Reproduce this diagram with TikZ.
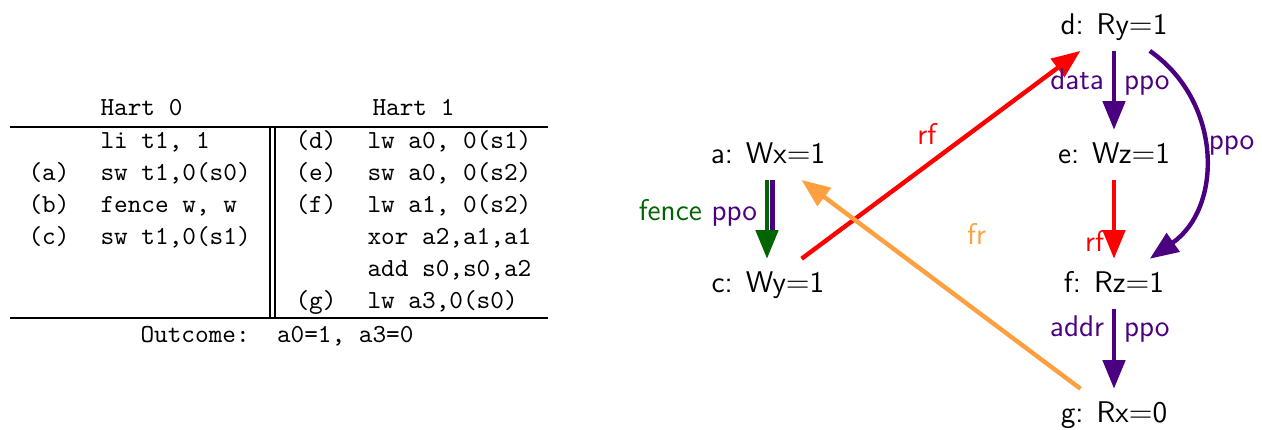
\documentclass[tikz,border=0pt]{standalone}
\usetikzlibrary{arrows.meta,calc,positioning}
\definecolor{ppocol}{RGB}{75,0,130}
\definecolor{fencecol}{RGB}{0,100,0}
\definecolor{rfcol}{RGB}{255,0,0}
\definecolor{frcol}{RGB}{255,160,64}
\tikzset{
	code/.style={anchor=base west, inner sep=0pt, font=\ttfamily\fontsize{10}{12}\selectfont},
	ev/.style={anchor=base, inner sep=3.6pt, text height=9pt, text depth=2.7pt, font=\sffamily\fontsize{11.5}{14}\selectfont},
	lbl/.style={inner sep=3pt, text height=7pt, text depth=2pt, font=\sffamily\fontsize{11.5}{14}\selectfont},
	rel/.style={line width=1.7pt, -{Triangle[length=11pt,width=8.5pt]}},
}
\begin{document}
\begin{tikzpicture}[x=0.3846pt, y=-0.3846pt]
			\useasboundingbox (0,0) rectangle (1262,429);
			%%%%% LITMUS TABLE %%%%%
			
			\node[code] (hart0) at (100,115) {Hart 0};
			\node[code] (hart1) at (372,115) {Hart 1};
			
			\draw (10,127) -- (548,127);
			\draw (270,127) -- (270,318);
			\draw (275,127) -- (275,318);
			\draw (10,318) -- (548,318);
			
			\node[code] (li) at (100,148) {li t1, 1};
			\node[code] (la) at (28,180) {(a)};
			\node[code] (ia) at (100,180) {sw t1,0(s0)};
			\node[code] (lb) at (28,212) {(b)};
			\node[code] (ib) at (100,212) {fence w, w};
			\node[code] (lc) at (28,244) {(c)};
			\node[code] (ic) at (100,244) {sw t1,0(s1)};
			
			\node[code] (ld) at (295,148) {(d)};
			\node[code] (id) at (367,148) {lw a0, 0(s1)};
			\node[code] (le) at (295,180) {(e)};
			\node[code] (ie) at (367,180) {sw a0, 0(s2)};
			\node[code] (lf) at (295,212) {(f)};
			\node[code] (if) at (367,212) {lw a1, 0(s2)};
			\node[code] (xor) at (367,244) {xor a2,a1,a1};
			\node[code] (add) at (367,276) {add s0,s0,a2};
			\node[code] (lg) at (295,308) {(g)};
			\node[code] (ig) at (367,308) {lw a3,0(s0)};
			
			\node[code] (outcome) at (140,342) {Outcome:~~a0=1, a3=0};
			
			%%%%% EVENT GRAPH %%%%%
			
			\node[ev] (a) at (768,163) {a: Wx$=$1};
			\node[ev] (c) at (768,292) {c: Wy$=$1};
			\node[ev] (d) at (1114,34) {d: Ry$=$1};
			\node[ev] (e) at (1114,163) {e: Wz$=$1};
			\node[ev] (f) at (1114,292) {f: Rz$=$1};
			\node[ev] (g) at (1114,422) {g: Rx$=$0};
			
			\draw[ppocol, line width=1.7pt] ($(a.south)+(4.5,0)$) -- ($(c.north)+(4.5,-24)$);
			\draw[rel, fencecol] ($(a.south)+(-1,0)$) -- ($(c.north)+(-1,0)$)
				node[lbl, pos=0.43, left] {fence \textcolor{ppocol}{ppo}};
			
			\draw[rel, rfcol] (c) -- (d) node[lbl, pos=0.5, above left, inner sep=1pt] {rf};
			\draw[rel, ppocol] (d) -- (e) node[lbl, pos=0.41, left] {data} node[lbl, pos=0.41, right] {ppo};
			\draw[rel, ppocol] (d) to[out=-35, in=35, looseness=1.1] node[lbl, pos=0.45, right, inner sep=1pt] {ppo} (f);
			\draw[rel, rfcol] (e) -- (f) node[lbl, pos=0.82, left] {rf};
			\draw[rel, ppocol] (f) -- (g) node[lbl, pos=0.27, left] {addr} node[lbl, pos=0.27, right] {ppo};
			\draw[rel, frcol] (g) -- (a) node[lbl, pos=0.5, above right=9.3pt and 6.2pt] {fr};
			
			%%%%% END %%%%%
\end{tikzpicture}
\end{document}
